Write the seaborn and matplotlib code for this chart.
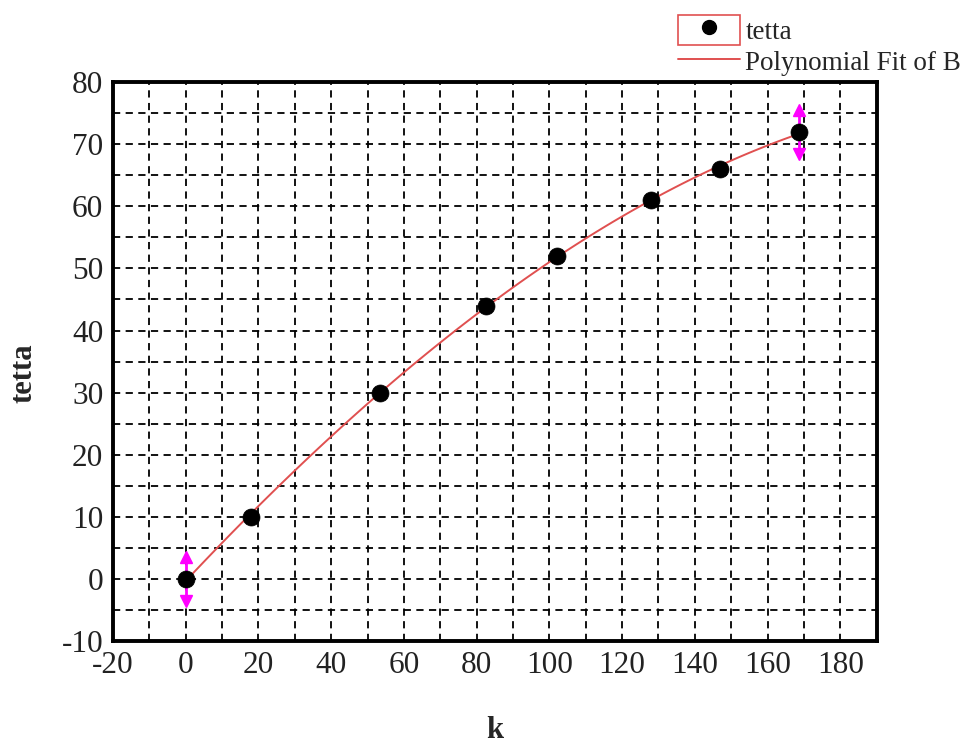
import numpy as np
import pandas as pd
import matplotlib
matplotlib.use("Agg")
import matplotlib.pyplot as plt
from matplotlib.lines import Line2D
from matplotlib.patches import Rectangle
from matplotlib.legend_handler import HandlerTuple
from matplotlib.ticker import MultipleLocator
import seaborn as sns

# ---- data ----
k_values = [0, 18, 53.5, 82.5, 102, 128, 147, 168.7]
tetta_values = [0, 10, 30, 44, 52, 61, 66, 72]
tetta_err = [4.2, 0, 0, 0, 0, 0, 0, 4.2]
x_ticks = [-20, 0, 20, 40, 60, 80, 100, 120, 140, 160, 180]
y_ticks = [-10, 0, 10, 20, 30, 40, 50, 60, 70, 80]

df = pd.DataFrame({"k": k_values, "tetta": tetta_values, "err": tetta_err})

sns.set_theme(style="white")
plt.rcParams["font.family"] = ["Liberation Serif", "DejaVu Serif"]
plt.rcParams["axes.unicode_minus"] = False

fig = plt.figure(figsize=(9.74, 7.47), dpi=100)
ax = fig.add_axes([0.116, 0.142, 0.784, 0.748])

fit_color = "#e05050"
err_color = "#ff00ff"

# polynomial fit line
sns.regplot(data=df, x="k", y="tetta", order=3, ci=None, scatter=False,
            ax=ax, line_kws=dict(color=fit_color, lw=1.4, zorder=3))

# error bars (only points with nonzero error) with arrow heads
m = df["err"] > 0
ek = df.loc[m, "k"]
ey = df.loc[m, "tetta"]
ee = df.loc[m, "err"]
ax.errorbar(ek, ey, yerr=ee, fmt="none", ecolor=err_color, elinewidth=2.0,
            capsize=0, zorder=4)
ax.plot(ek, ey + ee * 0.85, linestyle="none", marker="^", color=err_color,
        markersize=8, zorder=4)
ax.plot(ek, ey - ee * 0.85, linestyle="none", marker="v", color=err_color,
        markersize=8, zorder=4)

# data points
sns.scatterplot(data=df, x="k", y="tetta", ax=ax, color="black", s=150,
                edgecolor="black", linewidth=0.5, zorder=5, legend=False)

ax.set_xlim(-20, 190)
ax.set_ylim(-10, 80)
ax.set_xticks(x_ticks)
ax.set_yticks(y_ticks)
ax.xaxis.set_minor_locator(MultipleLocator(10))
ax.yaxis.set_minor_locator(MultipleLocator(5))
ax.grid(True, which="both", color="black", linestyle=(0, (4, 3)), lw=1.3, zorder=0)
ax.set_axisbelow(True)
ax.tick_params(which="both", length=0, labelsize=22.5, pad=7, colors="#222222")
for sp in ax.spines.values():
    sp.set_linewidth(2.8)
    sp.set_color("black")

ax.set_xlabel("k", fontsize=22, fontweight="bold")
ax.set_ylabel("tetta", fontsize=22, fontweight="bold")
ax.xaxis.set_label_coords(0.5, -0.135)
ax.yaxis.set_label_coords(-0.098, 0.48)

# legend (Origin style)
h1 = (Rectangle((0, 0), 1, 1, facecolor="none", edgecolor=fit_color, lw=1.2),
      Line2D([], [], marker="o", color="black", linestyle="none", markersize=10))
h2 = Line2D([], [], color=fit_color, lw=1.4)
leg = fig.legend([h1, h2], ["tetta", "Polynomial Fit of B"],
                 handler_map={tuple: HandlerTuple(ndivide=1, pad=0)},
                 loc="upper left", bbox_to_anchor=(0.686, 0.992),
                 frameon=False, fontsize=19.5, handlelength=2.3,
                 handleheight=1.3, handletextpad=0.2, labelspacing=0.05,
                 borderaxespad=0.15, borderpad=0.2)

fig.savefig("out.png", dpi=100)
